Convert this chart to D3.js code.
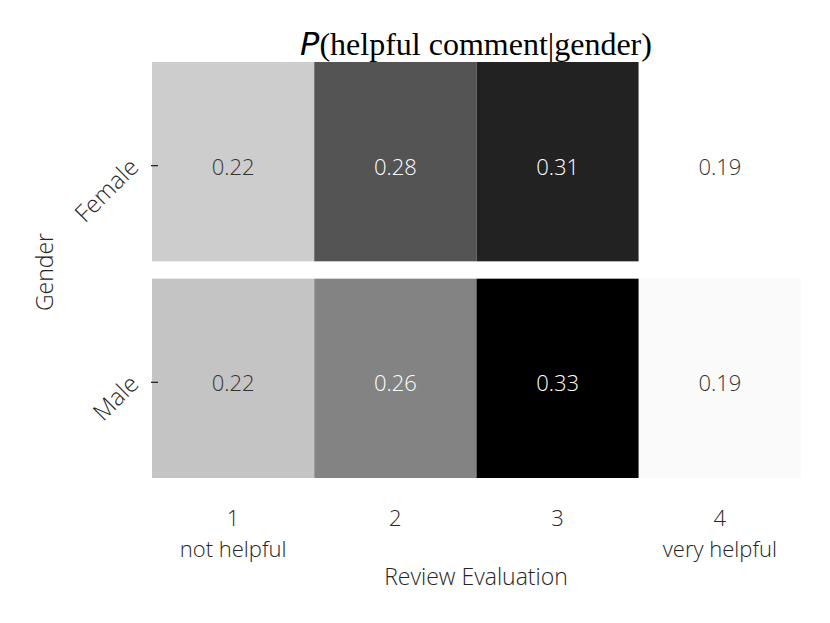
<!DOCTYPE html>
<html>
<head>
<meta charset="utf-8">
<script src="https://cdn.jsdelivr.net/npm/d3@7"></script>
<style>
body { margin: 0; background: #fff; }
text { font-family: "Open Sans", "DejaVu Sans", sans-serif; font-weight: 300; }
</style>
</head>
<body>
<div id="chart"></div>
<script>
var w = 830;
var h = 623;

var genders = ["Female", "Male"];
var ratings = ["1", "2", "3", "4"];
var ratingNames = ["not helpful", "", "", "very helpful"];
var female = [0.216, 0.283, 0.311, 0.188];
var male = [0.221, 0.257, 0.330, 0.191];

var cells = [];
genders.forEach(function(g, r) {
  var vals = r === 0 ? female : male;
  ratings.forEach(function(c, i) {
    cells.push({ g: g, c: c, v: vals[i] });
  });
});

var xScale = d3.scaleBand()
  .domain(ratings)
  .range([152, 801]);

var yScale = d3.scaleBand()
  .domain(genders)
  .range([62, 478])
  .paddingInner(0.08);

var allVals = female.concat(male);
var color = d3.scaleLinear()
  .domain([d3.min(allVals), d3.max(allVals)])
  .range(["#ffffff", "#000000"]);

var svg = d3.select("#chart")
  .append("svg")
  .attr("width", w)
  .attr("height", h);

//cells
svg.selectAll("rect.cell")
  .data(cells)
  .enter()
  .append("rect")
  .attr("class", "cell")
  .attr("x", function(d) { return xScale(d.c); })
  .attr("y", function(d) { return yScale(d.g); })
  .attr("width", xScale.bandwidth())
  .attr("height", yScale.bandwidth())
  .attr("fill", function(d) { return color(d.v); });

//annotations
svg.selectAll("text.val")
  .data(cells)
  .enter()
  .append("text")
  .attr("class", "val")
  .attr("x", function(d) { return xScale(d.c) + xScale.bandwidth() / 2; })
  .attr("y", function(d) { return yScale(d.g) + yScale.bandwidth() / 2 + 4; })
  .attr("text-anchor", "middle")
  .attr("dominant-baseline", "central")
  .attr("font-size", "22px")
  .attr("fill", function(d) {
    return (d.v - d3.min(allVals)) / (d3.max(allVals) - d3.min(allVals)) > 0.45 ? "#ffffff" : "#333333";
  })
  .text(function(d) { return d.v.toFixed(2); });

//y ticks
svg.selectAll("line.ytick")
  .data(genders)
  .enter()
  .append("line")
  .attr("x1", 151)
  .attr("x2", 158)
  .attr("y1", function(d) { return yScale(d) + yScale.bandwidth() / 2 + 4; })
  .attr("y2", function(d) { return yScale(d) + yScale.bandwidth() / 2 + 4; })
  .attr("stroke", "#262626")
  .attr("stroke-width", 1.3);

svg.selectAll("text.ylab")
  .data(genders)
  .enter()
  .append("text")
  .attr("class", "ylab")
  .attr("text-anchor", "end")
  .attr("font-size", "24px")
  .attr("fill", "#262626")
  .attr("transform", function(d) {
    var y = yScale(d) + yScale.bandwidth() / 2 + 4;
    return "translate(140," + (y + 3) + ") rotate(-45)";
  })
  .text(function(d) { return d; });

//x tick labels, number over name
svg.selectAll("text.xlab")
  .data(ratings)
  .enter()
  .append("text")
  .attr("class", "xlab")
  .attr("x", function(d) { return xScale(d) + xScale.bandwidth() / 2; })
  .attr("y", 526)
  .attr("text-anchor", "middle")
  .attr("font-size", "22px")
  .attr("fill", "#262626")
  .text(function(d) { return d; });

svg.selectAll("text.xname")
  .data(ratings.filter(function(d, i) { return ratingNames[i] !== ""; }))
  .enter()
  .append("text")
  .attr("class", "xname")
  .attr("x", function(d) { return xScale(d) + xScale.bandwidth() / 2; })
  .attr("y", 557)
  .attr("text-anchor", "middle")
  .attr("font-size", "22px")
  .attr("fill", "#262626")
  .text(function(d) { return ratingNames[ratings.indexOf(d)]; });

//axis titles
svg.append("text")
  .attr("x", 476)
  .attr("y", 585)
  .attr("text-anchor", "middle")
  .attr("font-size", "23px")
  .attr("fill", "#262626")
  .text("Review Evaluation");

svg.append("text")
  .attr("transform", "translate(53,272) rotate(-90)")
  .attr("text-anchor", "middle")
  .attr("font-size", "23px")
  .attr("fill", "#262626")
  .text("Gender");

//title
var title = svg.append("text")
  .attr("x", 476)
  .attr("y", 55)
  .attr("text-anchor", "middle")
  .attr("font-size", "32px")
  .attr("fill", "#000");
title.append("tspan")
  .attr("font-style", "italic")
  .style("font-family", "'DejaVu Sans', sans-serif")
  .style("font-weight", "400")
  .text("P");
title.append("tspan")
  .style("font-family", "'Liberation Serif', serif")
  .style("font-weight", "400")
  .text("(helpful comment|gender)");
</script>
</body>
</html>
